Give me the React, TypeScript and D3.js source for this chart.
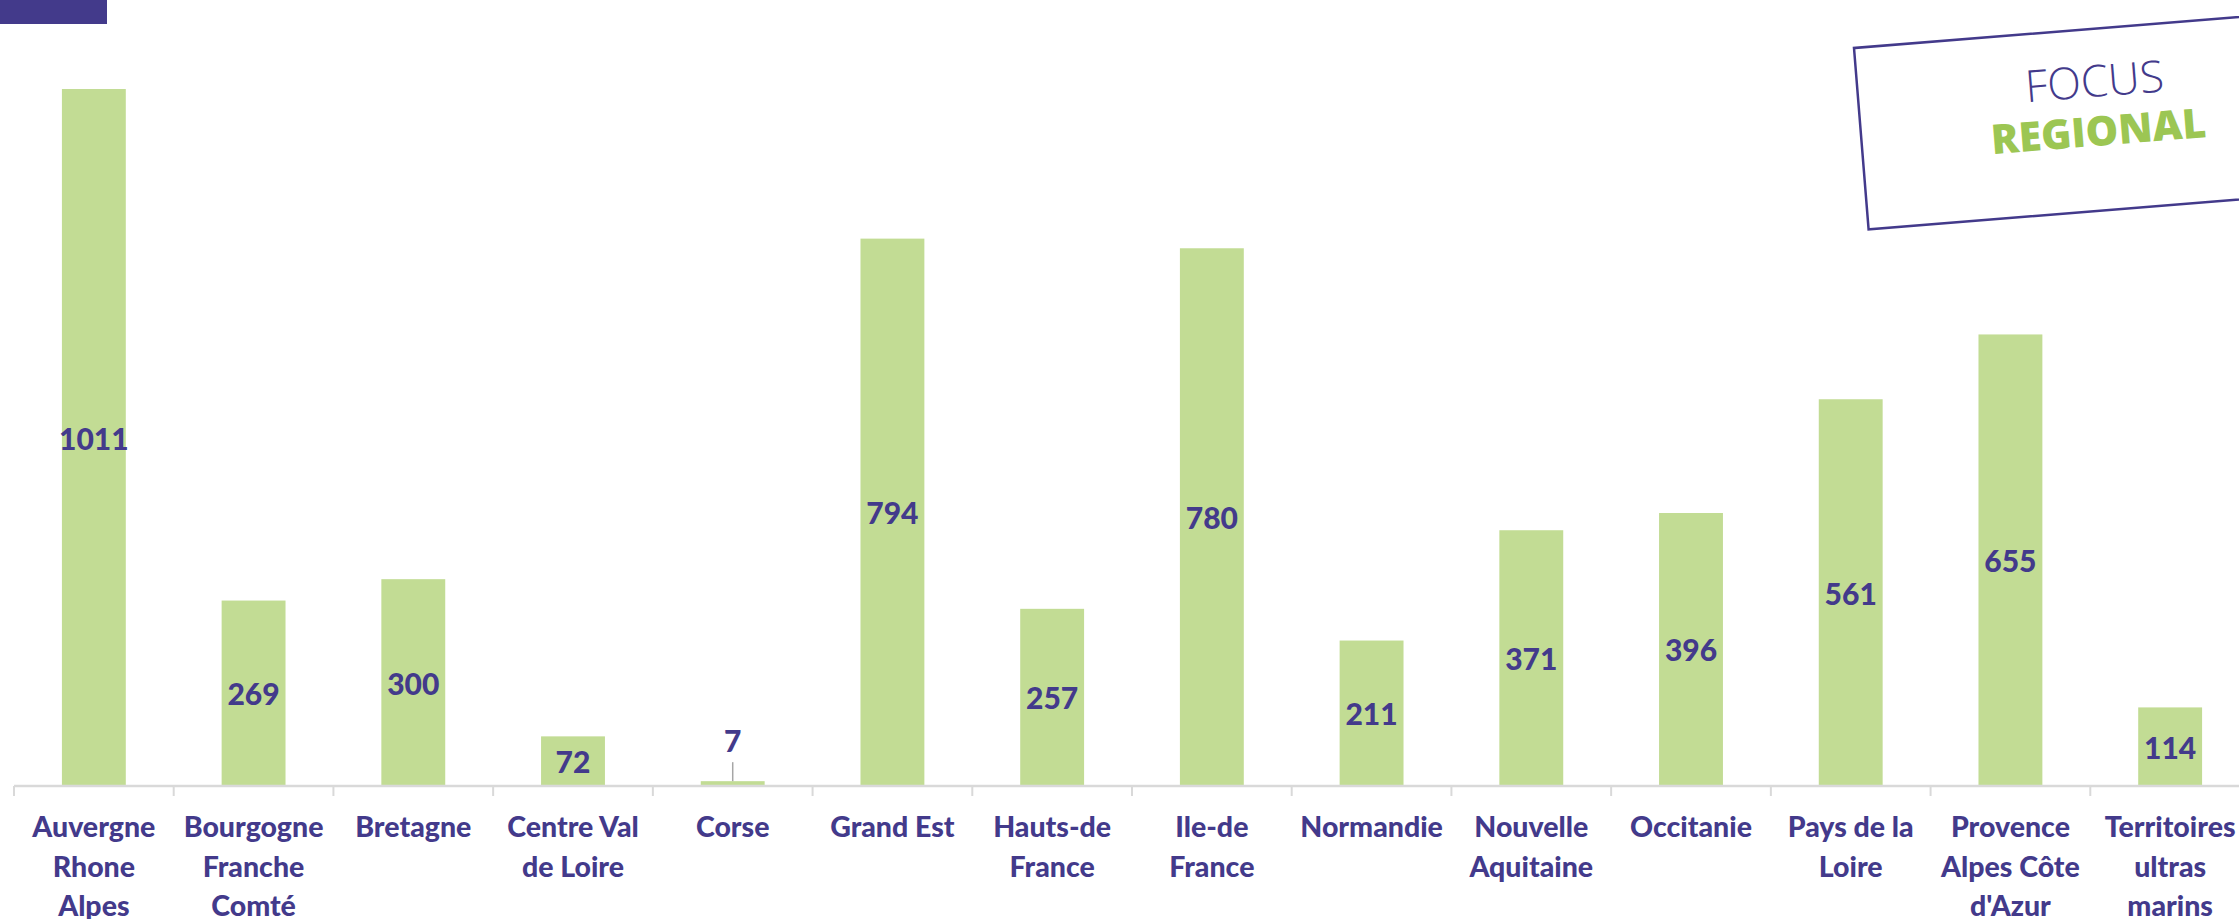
import React from "react";
import * as d3 from "d3";

const regions = [
  "Auvergne Rhone Alpes",
  "Bourgogne Franche Comté",
  "Bretagne",
  "Centre Val de Loire",
  "Corse",
  "Grand Est",
  "Hauts-de France",
  "Ile-de France",
  "Normandie",
  "Nouvelle Aquitaine",
  "Occitanie",
  "Pays de la Loire",
  "Provence Alpes Côte d'Azur",
  "Territoires ultras marins",
];
const values = [1011, 269, 300, 72, 7, 794, 257, 780, 211, 371, 396, 561, 655, 114];
const tickLines = [
  ["Auvergne", "Rhone", "Alpes"],
  ["Bourgogne", "Franche", "Comté"],
  ["Bretagne"],
  ["Centre Val", "de Loire"],
  ["Corse"],
  ["Grand Est"],
  ["Hauts-de", "France"],
  ["Ile-de", "France"],
  ["Normandie"],
  ["Nouvelle", "Aquitaine"],
  ["Occitanie"],
  ["Pays de la", "Loire"],
  ["Provence", "Alpes Côte", "d'Azur"],
  ["Territoires", "ultras", "marins"],
];

const W = 2239, H = 919;
const PURPLE = "#433a8b";
const GREEN = "#c2dc94";
const AXIS = "#d9d9d9";
const FONT = "Lato, 'Open Sans', sans-serif";

export default function App() {
  const x = d3.scaleBand().domain(regions).range([14, 2250]).paddingInner(0.6).paddingOuter(0.3);
  const y = d3.scaleLinear().domain([0, 1000]).range([786, 96.6]);
  const y0 = y(0);

  return (
    <svg width={W} height={H} style={{ position: "absolute", left: 0, top: 0, display: "block" }}
      fontFamily={FONT}>
      <rect x={0} y={0} width={107} height={24} fill={PURPLE} />

      {regions.map((r, i) => (
        <rect key={r} x={x(r)} y={y(values[i])} width={x.bandwidth()} height={y0 - y(values[i])} fill={GREEN} />
      ))}

      {/* axis */}
      <line x1={14} x2={2250} y1={y0} y2={y0} stroke={AXIS} strokeWidth={2.5} />
      {regions.map((r) => {
        const tx = x(r) - x.step() * 0.3;
        return <line key={"t" + r} x1={tx} x2={tx} y1={y0} y2={y0 + 10} stroke={AXIS} strokeWidth={2} />;
      })}

      {/* value labels */}
      {regions.map((r, i) => {
        const cx = x(r) + x.bandwidth() / 2;
        const top = y(values[i]);
        if (y0 - top < 40) {
          return (
            <g key={"v" + r}>
              <line x1={cx} x2={cx} y1={top - 19} y2={top} stroke="#a6a6a6" strokeWidth={1.5} />
              <text x={cx} y={top - 41} textAnchor="middle" dominantBaseline="central"
                fontSize={30} fontWeight={900} fill={PURPLE}>{values[i]}</text>
            </g>
          );
        }
        return (
          <text key={"v" + r} x={cx} y={(y0 + top) / 2} textAnchor="middle" dominantBaseline="central"
            fontSize={30} fontWeight={900} fill={PURPLE}>{values[i]}</text>
        );
      })}

      {/* category labels */}
      {regions.map((r, i) => (
        <text key={"c" + r} x={x(r) + x.bandwidth() / 2} textAnchor="middle" fontSize={28.5}
          fontWeight={900} fill={PURPLE}>
          {tickLines[i].map((l, j) => (
            <tspan key={j} x={x(r) + x.bandwidth() / 2} y={837 + j * 39.5}>{l}</tspan>
          ))}
        </text>
      ))}

      {/* focus stamp */}
      <g transform="translate(1854,48) rotate(-4.6)">
        <rect x={0} y={0} width={430} height={182} fill="white" stroke={PURPLE} strokeWidth={2.5} />
        <text x={237} y={68} textAnchor="middle" fontFamily="'Open Sans', sans-serif" fontWeight={300}
          fontSize={44} fill={PURPLE}>FOCUS</text>
        <text x={237} y={117} textAnchor="middle" fontFamily="'Open Sans', sans-serif" fontWeight={800}
          fontSize={41} fill="#9cc653">REGIONAL</text>
      </g>
    </svg>
  );
}
